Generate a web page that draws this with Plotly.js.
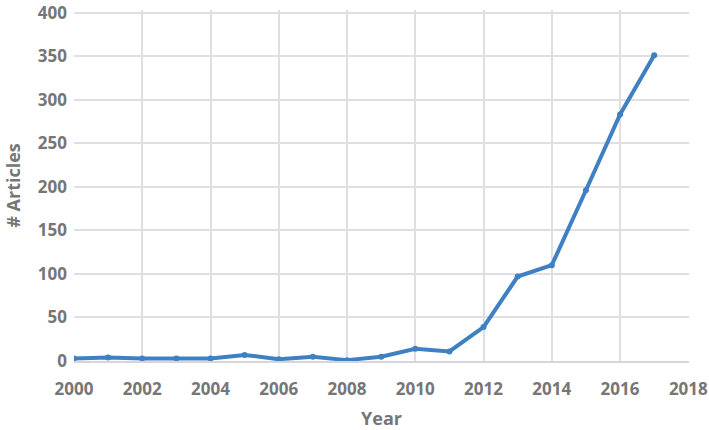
<!DOCTYPE html>
<html>
<head>
<meta charset="utf-8">
<script src="https://cdn.plot.ly/plotly-3.0.1.min.js"></script>
<style>
  html, body { margin: 0; padding: 0; background: #fff; }
  #graph { width: 709px; height: 430px; }
</style>
</head>
<body>
<div id="graph"></div>
<script>
// articles per year
var years = [2000, 2001, 2002, 2003, 2004, 2005, 2006, 2007, 2008, 2009,
             2010, 2011, 2012, 2013, 2014, 2015, 2016, 2017];
var articles = [3, 4, 3, 3, 3, 7, 2, 5, 1, 5, 14, 11, 39, 97, 110, 196, 283, 351];

var xTicks = [2000, 2002, 2004, 2006, 2008, 2010, 2012, 2014, 2016, 2018];
var yTicks = [0, 50, 100, 150, 200, 250, 300, 350, 400];

var textGray = '#767676'
var gridGray = '#dedee3'
var fontFam = 'Open Sans, sans-serif'

var trace = {
	x: years,
	y: articles,
	mode: 'lines+markers',
	hoverinfo: 'none',
	line: { color: '#3f80c2', width: 4 },
	marker: { color: '#3f80c2', size: 6 }
}

var layout = {
	width: 709,
	height: 430,
	margin: { l: 74, r: 20, t: 10, b: 69 },
	paper_bgcolor: '#ffffff',
	plot_bgcolor: '#ffffff',
	showlegend: false,
	font: { family: fontFam, size: 17, color: textGray, weight: 'bold' },
	xaxis: {
		range: [2000, 2018.02],
		autorange: false,
		tickvals: xTicks,
		ticktext: xTicks.map(String),
		showgrid: true,
		gridcolor: gridGray,
		gridwidth: 2,
		zeroline: false,
		showline: true,
		linecolor: '#d6d6da',
		linewidth: 2,
		ticks: '',
		ticklabelstandoff: 12,
		tickfont: { family: fontFam, size: 17, color: textGray, weight: 'bold' },
		title: { text: 'Year', standoff: 14, font: { family: fontFam, size: 18, color: textGray, weight: 'bold' } }
	},
	yaxis: {
		range: [0, 403],
		autorange: false,
		tickvals: yTicks,
		showgrid: true,
		gridcolor: gridGray,
		gridwidth: 2,
		zeroline: false,
		showline: false,
		ticks: '',
		ticklabelstandoff: 6,
		ticklabeloverflow: 'allow',
		tickfont: { family: fontFam, size: 17, color: textGray, weight: 'bold' },
		title: { text: '# Articles', standoff: 12, font: { family: fontFam, size: 18, color: textGray, weight: 'bold' } }
	}
}

Plotly.newPlot('graph', [trace], layout, { staticPlot: true, displayModeBar: false })
</script>
</body>
</html>
